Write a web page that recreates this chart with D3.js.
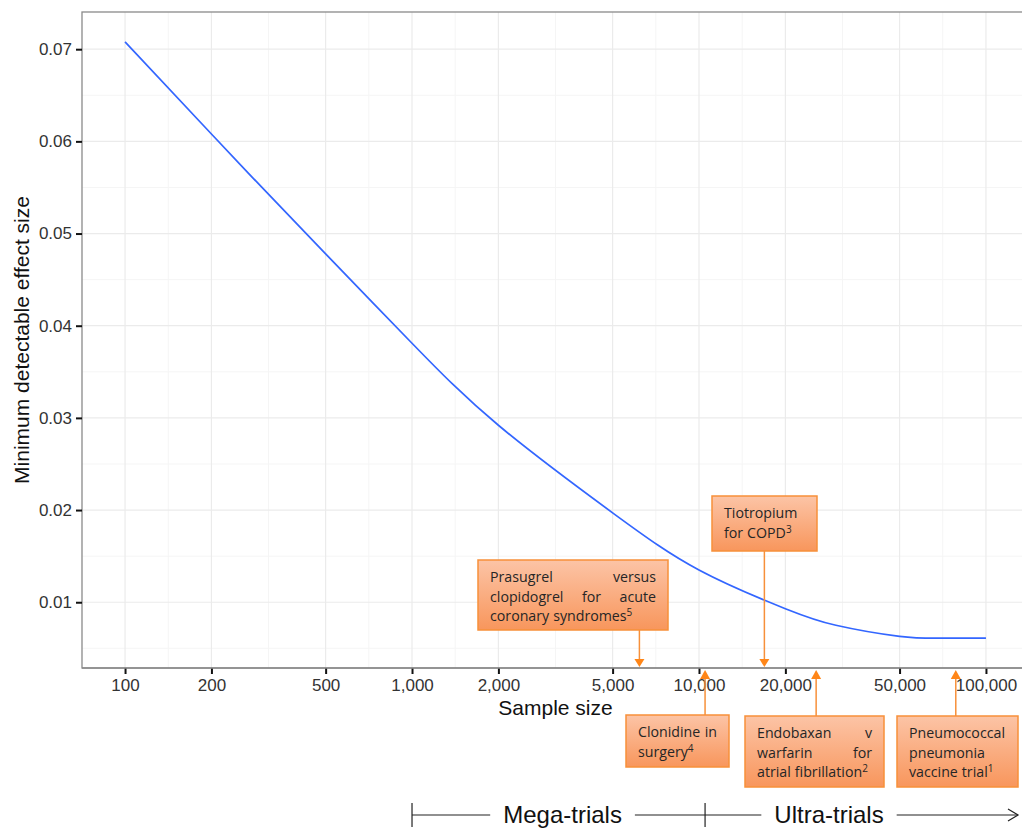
<!DOCTYPE html>
<html>
<head>
<meta charset="utf-8">
<script src="https://cdn.jsdelivr.net/npm/d3@7"></script>
<style>
  body { margin: 0; background: #fff; }
  svg { display: block; }
</style>
</head>
<body>
<script>
// curve
const sampleSizes = [100, 200, 300, 500, 1000, 2000, 5000, 10000, 20000, 30000, 50000, 70000, 100000];
const effectSizes = [0.0708, 0.0608, 0.0550, 0.0478, 0.0381, 0.0292, 0.0197, 0.0135, 0.0093, 0.0075, 0.0063, 0.0061, 0.0061];

const xTicks = [100, 200, 500, 1000, 2000, 5000, 10000, 20000, 50000, 100000];
const yTicks = [0.01, 0.02, 0.03, 0.04, 0.05, 0.06, 0.07];

// annotated trials
const trialLines = [
    ["Prasugrel versus", "clopidogrel for acute", "coronary syndromes"],
    ["Tiotropium", "for COPD"],
    ["Clonidine in", "surgery"],
    ["Endobaxan v", "warfarin for", "atrial fibrillation"],
    ["Pneumococcal", "pneumonia", "vaccine trial"]
];
const trialRefs = ["5", "3", "4", "2", "1"];
const trialSizes = [6200, 16900, 10500, 25600, 78500];

const bandLabels = ["Mega-trials", "Ultra-trials"];
const bandStarts = [1000, 10500];

// layout
const W = 1022, H = 829;
const panel = { left: 82, top: 12, right: 1029, bottom: 668 };
// box layout: x, y, width, height, side (above / below the axis)
const boxes = [
    [478, 560, 190, 70, "above"],
    [712, 496, 105, 55, "above"],
    [626, 715, 103, 52, "below"],
    [745, 716, 139, 71, "below"],
    [897, 716, 121, 71, "below"]
];

const svg = d3.select("body").append("svg")
    .attr("width", W).attr("height", H)
    .style("font-family", "'Liberation Sans', Arial, sans-serif");

const defs = svg.append("defs");
const grad = defs.append("linearGradient").attr("id", "boxFill")
    .attr("x1", 0).attr("y1", 0).attr("x2", 0).attr("y2", 1);
grad.append("stop").attr("offset", "0%").attr("stop-color", "#fcc4a6");
grad.append("stop").attr("offset", "100%").attr("stop-color", "#f8965c");

// ggplot-like 5% expansion
const lx = d3.extent(sampleSizes).map(Math.log10);
const dlx = (lx[1] - lx[0]) * 0.05;
const x = d3.scaleLog()
    .domain([Math.pow(10, lx[0] - dlx), Math.pow(10, lx[1] + dlx)])
    .range([panel.left, panel.right]);
const ey = d3.extent(effectSizes);
const dy = (ey[1] - ey[0]) * 0.05;
const y = d3.scaleLinear()
    .domain([ey[0] - dy, ey[1] + dy])
    .range([panel.bottom, panel.top]);

// grid
const grid = svg.append("g");
const minorX = d3.pairs(xTicks).map(p => Math.sqrt(p[0] * p[1]));
const minorY = [0.005].concat(d3.pairs(yTicks).map(p => (p[0] + p[1]) / 2));
grid.selectAll(".mnx").data(minorX).enter().append("line")
    .attr("x1", d => x(d)).attr("x2", d => x(d))
    .attr("y1", panel.top).attr("y2", panel.bottom)
    .attr("stroke", "#f5f5f5").attr("stroke-width", 1);
grid.selectAll(".mny").data(minorY).enter().append("line")
    .attr("y1", d => y(d)).attr("y2", d => y(d))
    .attr("x1", panel.left).attr("x2", panel.right)
    .attr("stroke", "#f5f5f5").attr("stroke-width", 1);
grid.selectAll(".mjx").data(xTicks).enter().append("line")
    .attr("x1", d => x(d)).attr("x2", d => x(d))
    .attr("y1", panel.top).attr("y2", panel.bottom)
    .attr("stroke", "#ebebeb").attr("stroke-width", 1.2);
grid.selectAll(".mjy").data(yTicks).enter().append("line")
    .attr("y1", d => y(d)).attr("y2", d => y(d))
    .attr("x1", panel.left).attr("x2", panel.right)
    .attr("stroke", "#ebebeb").attr("stroke-width", 1.2);

// panel border
svg.append("rect")
    .attr("x", panel.left).attr("y", panel.top)
    .attr("width", panel.right - panel.left).attr("height", panel.bottom - panel.top)
    .attr("fill", "none").attr("stroke", "#8a8a8a").attr("stroke-width", 1.3);

// curve
const line = d3.line()
    .x((d, i) => x(sampleSizes[i]))
    .y(d => y(d))
    .curve(d3.curveNatural);
svg.append("path").datum(effectSizes)
    .attr("d", line)
    .attr("fill", "none").attr("stroke", "#3366ff").attr("stroke-width", 1.7);

// axes
const xAxis = svg.append("g").attr("transform", "translate(0," + panel.bottom + ")")
    .call(d3.axisBottom(x).tickValues(xTicks).tickFormat(d3.format(",")).tickSize(6).tickPadding(5));
const yAxis = svg.append("g").attr("transform", "translate(" + panel.left + ",0)")
    .call(d3.axisLeft(y).tickValues(yTicks).tickFormat(d3.format(".2f")).tickSize(6).tickPadding(4));
[xAxis, yAxis].forEach(a => {
    a.select(".domain").remove();
    a.selectAll(".tick line").attr("stroke", "#111").attr("stroke-width", 2);
    a.selectAll(".tick text").attr("fill", "#333")
        .style("font-size", "17px").style("font-family", "'Liberation Sans', Arial, sans-serif");
});
svg.append("line")
    .attr("x1", panel.left).attr("x2", panel.right)
    .attr("y1", panel.bottom).attr("y2", panel.bottom)
    .attr("stroke", "#8a8a8a").attr("stroke-width", 1.6);

// axis titles
svg.append("text")
    .attr("x", (panel.left + panel.right) / 2).attr("y", 715)
    .attr("text-anchor", "middle").style("font-size", "21px").attr("fill", "#111")
    .text("Sample size");
svg.append("text")
    .attr("transform", "translate(29," + (panel.top + panel.bottom) / 2 + ") rotate(-90)")
    .attr("text-anchor", "middle").style("font-size", "21px").attr("fill", "#111")
    .text("Minimum detectable effect size");

// annotation boxes
const annFont = "'Open Sans', 'Noto Sans', sans-serif";
const orange = "#f7903a";

function drawLine(g, words, x0, width, yy, justify, sup) {
    const items = words.map((w, i) => {
        const t = g.append("text").attr("y", yy)
            .style("font-family", annFont).style("font-size", "14.2px").attr("fill", "#262626");
        t.append("tspan").text(w);
        if (sup && i === words.length - 1) {
            t.append("tspan").attr("dy", -5).style("font-size", "10px").text(sup);
        }
        return t;
    });
    const widths = items.map(t => t.node().getComputedTextLength());
    const total = d3.sum(widths);
    const gap = (justify && words.length > 1) ? (width - total) / (words.length - 1) : 4;
    let cx = x0;
    items.forEach((t, i) => { t.attr("x", cx); cx += widths[i] + gap; });
}

trialLines.forEach((lines, k) => {
    const [bx, by, bw, bh, side] = boxes[k];
    const g = svg.append("g");
    const ax = x(trialSizes[k]);

    // arrow
    let y1, tip, base;
    if (side === "above") { y1 = by + bh; tip = panel.bottom - 1; base = tip - 8; }
    else { y1 = by; tip = panel.bottom + 2; base = tip + 9; }
    g.append("line")
        .attr("x1", ax).attr("x2", ax).attr("y1", y1).attr("y2", base)
        .attr("stroke", orange).attr("stroke-width", 1.5);
    g.append("path")
        .attr("d", "M" + (ax - 5) + "," + base + "L" + (ax + 5) + "," + base + "L" + ax + "," + tip + "Z")
        .attr("fill", "#ff8618");

    g.append("rect")
        .attr("x", bx).attr("y", by).attr("width", bw).attr("height", bh)
        .attr("fill", "url(#boxFill)").attr("stroke", orange).attr("stroke-width", 1.5);

    lines.forEach((ln, i) => {
        const last = i === lines.length - 1;
        drawLine(g, ln.split(" "), bx + 12, bw - 24, by + 22 + i * 19.5, !last, last ? trialRefs[k] : null);
    });
});

// mega / ultra trials band
const bandY = 815;
const band = svg.append("g").attr("stroke", "#222").attr("stroke-width", 1.2);
bandStarts.forEach(s => {
    band.append("line").attr("x1", x(s)).attr("x2", x(s)).attr("y1", bandY - 12).attr("y2", bandY + 12);
});
const bandText = svg.append("g");
const labelCenters = [(x(bandStarts[0]) + x(bandStarts[1])) / 2 + 4, 829];
const bandEnd = 1018;
let segStart = x(bandStarts[0]);
bandLabels.forEach((lab, i) => {
    const t = bandText.append("text")
        .attr("x", labelCenters[i]).attr("y", bandY + 8)
        .attr("text-anchor", "middle").style("font-size", "24px").attr("fill", "#111")
        .text(lab);
    const bb = t.node().getBBox();
    band.append("line").attr("x1", segStart).attr("x2", bb.x - 13).attr("y1", bandY).attr("y2", bandY);
    segStart = bb.x + bb.width + 13;
});
band.append("line").attr("x1", segStart).attr("x2", bandEnd).attr("y1", bandY).attr("y2", bandY);
band.append("path")
    .attr("d", "M" + (bandEnd - 10) + "," + (bandY - 6) + "L" + bandEnd + "," + bandY + "L" + (bandEnd - 10) + "," + (bandY + 6))
    .attr("fill", "none");
</script>
</body>
</html>
